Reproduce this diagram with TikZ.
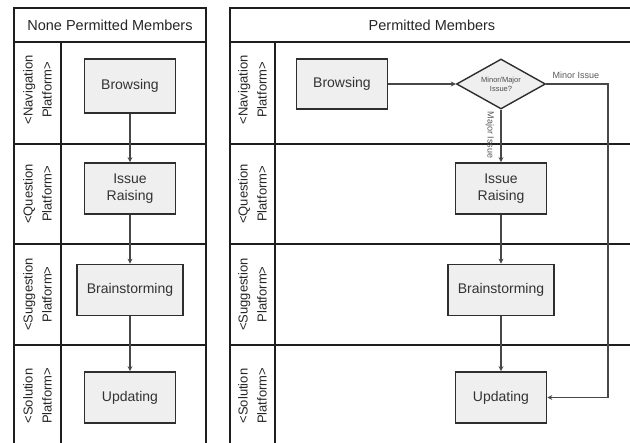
\documentclass[tikz,border=0pt]{standalone}
\usepackage{fontspec}
\setmainfont{Liberation Sans}
\usetikzlibrary{shapes.geometric,arrows.meta}
\definecolor{boxfill}{HTML}{EFEFEF}
\definecolor{boxedge}{HTML}{2E2E2E}
\definecolor{flow}{HTML}{474747}
\definecolor{frame}{HTML}{1E1E1E}
\begin{document}
\begin{tikzpicture}[x=1pt,y=-1pt,
  frameline/.style={draw=frame,line width=1.4pt},
  activity/.style={draw=boxedge,fill=boxfill,line width=1.7pt,minimum width=91pt,minimum height=51pt,
    align=center,font=\fontsize{14}{16.5}\selectfont,text=black!80,inner sep=2pt},
  decision/.style={diamond,draw=boxedge,fill=boxfill,line width=1.4pt,minimum width=89pt,minimum height=50pt,
    aspect=1.78,inner sep=0pt,align=center,font=\fontsize{7.5}{9}\selectfont,text=black!70},
  lanelabel/.style={rotate=90,align=center,font=\fontsize{13}{19}\selectfont,text=black!85},
  header/.style={font=\fontsize{14.5}{16}\selectfont,text=black!85},
  flowline/.style={draw=flow,line width=1.9pt,-{Stealth[length=5pt,width=5pt]}},
  flowlabel/.style={font=\fontsize{9}{10}\selectfont,text=black!65,inner sep=1.5pt}]
\useasboundingbox (0,0) rectangle (630,443);

% ---- left pool frame ----
\draw[frameline] (14,443) -- (14,8) -- (206,8) -- (206,443);
\draw[frameline] (14,42) -- (206,42);
\draw[frameline] (61,42) -- (61,443);
\foreach \yy in {144,244,345} \draw[frameline] (14,\yy) -- (206,\yy);
\node[header] (lhead) at (110,25) {None Permitted Members};

% ---- right pool frame ----
\draw[frameline] (230,443) -- (230,8) -- (630,8);
\draw[frameline] (230,42) -- (630,42);
\draw[frameline] (275,42) -- (275,443);
\foreach \yy in {144,244,345} \draw[frameline] (230,\yy) -- (630,\yy);
\node[header] (rhead) at (432,25) {Permitted Members};

% ---- lane labels ----
\foreach \px/\tag in {37.5/l,252.5/r}{
  \node[lanelabel] (\tag nav) at (\px,90) {<Navigation\\Platform>};
  \node[lanelabel] (\tag que) at (\px,194) {<Question\\Platform>};
  \node[lanelabel] (\tag sug) at (\px,294.5) {<Suggestion\\Platform>};
  \node[lanelabel] (\tag sol) at (\px,396) {<Solution\\Platform>};
}

% ---- left flow ----
\node[activity,minimum height=54pt] (lbrowse) at (130,86) {Browsing};
\node[activity] (lissue) at (130,188.5) {Issue\\Raising};
\node[activity,minimum width=106pt] (lbrain) at (130,290) {Brainstorming};
\node[activity] (lupdate) at (130,397.5) {Updating};
\draw[flowline] (lbrowse) -- (lissue);
\draw[flowline] (lissue) -- (lbrain);
\draw[flowline] (lbrain) -- (lupdate);

% ---- right flow ----
\node[activity,minimum height=50pt] (rbrowse) at (342,84) {Browsing};
\node[decision] (check) at (501,84) {Minor/Major\\Issue?};
\node[activity] (rissue) at (501,188.5) {Issue\\Raising};
\node[activity,minimum width=106pt] (rbrain) at (501,290) {Brainstorming};
\node[activity] (rupdate) at (501,397.5) {Updating};
\coordinate (turn) at (608,84);
\draw[flowline] (rbrowse) -- (check);
\draw[flowline] (check) -- (rissue);
\node[flowlabel,rotate=-90] (majorlbl) at (490,135) {Major Issue};
\draw[flowline] (check.east) -- (turn) |- (rupdate.east);
\node[flowlabel,anchor=south] (minorlbl) at (576,80) {Minor Issue};
\draw[flowline] (rissue) -- (rbrain);
\draw[flowline] (rbrain) -- (rupdate);
\end{tikzpicture}
\end{document}
